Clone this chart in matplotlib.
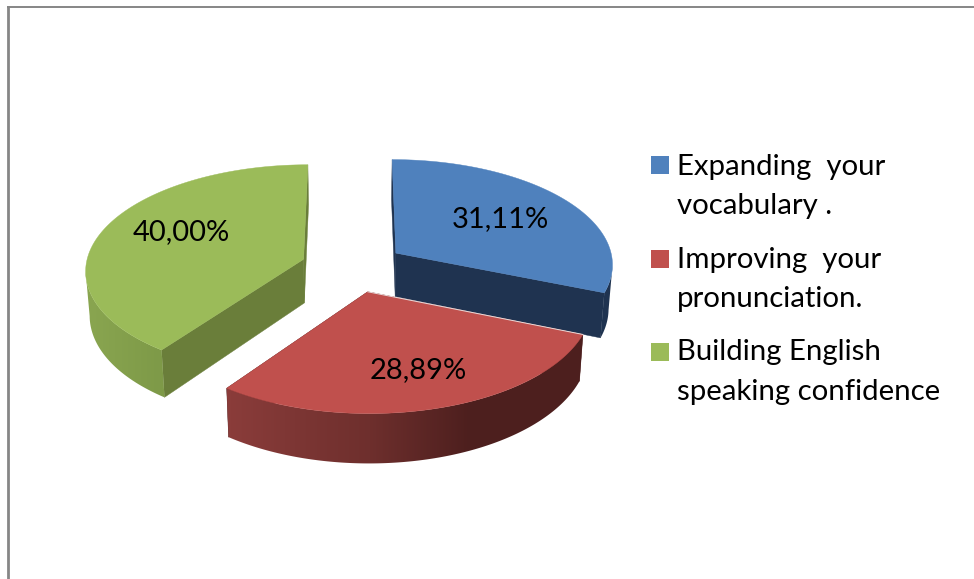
import numpy as np
import matplotlib
matplotlib.use("Agg")
import matplotlib.pyplot as plt
from matplotlib.colors import LinearSegmentedColormap, to_rgb
from matplotlib.patches import Polygon, Rectangle

plt.rcParams['font.family'] = ['Lato', 'DejaVu Sans']

# chart data
categories = [["Expanding  your", "vocabulary ."],
              ["Improving  your", "pronunciation."],
              ["Building English", "speaking confidence"]]
values = [31.11, 28.89, 40.00]

# colours
top_colors = ['#4F81BD', '#C0504D', '#9BBB59']
cut_colors = ['#1F3350', '#4D1F1E', '#6A7E3A']
# (screen x, colour) stops for the curved wall of each slice
wall_stops = [[(0, '#1F3350'), (974, '#1F3350')],
              [(220, '#8C3D3B'), (370, '#6E2F2D'), (470, '#4D1F1E'), (590, '#4E201F')],
              [(70, '#8CA852'), (160, '#7E9A48'), (320, '#7E9A48')]]

# projection of the 3D pie
CX, CY = 353, 267
RX, RY = 218, 105
PERSP = 0.096
EXPLODE = 0.24
DEPTH = 44
BOTTOM_SHRINK = 0.985
STEPS = 160


def project(wx, wd, drop=0.0):
    f = 1 / (1 + PERSP * wd)
    shrink = BOTTOM_SHRINK if drop else 1.0
    return CX + wx * RX * f * shrink, CY - wd * RY * f + drop * f


fig = plt.figure(figsize=(9.74, 5.79), dpi=100)
ax = fig.add_axes([0, 0, 1, 1])
ax.axis('off')

# frame of the chart area, only top and left show
ax.plot([7, 974], [6.5, 6.5], color='#868686', lw=1.4, solid_capstyle='butt', zorder=1)
ax.plot([7.5, 7.5], [6, 579], color='#868686', lw=2.0, solid_capstyle='butt', zorder=1)

# slice angles from the values
edges = np.concatenate([[0], np.cumsum(values)]) / sum(values) * 2 * np.pi
slices = []
for i in range(len(values)):
    t = np.linspace(edges[i], edges[i + 1], STEPS)
    mid = (edges[i] + edges[i + 1]) / 2
    slices.append((i, t, EXPLODE * np.sin(mid), EXPLODE * np.cos(mid)))

# back to front: green, blue, red
z = 2
for i, t, ox, od in [slices[2], slices[0], slices[1]]:
    wx, wd = ox + np.sin(t), od + np.cos(t)

    # flat cut faces
    for j in (0, -1):
        a = project(np.array([ox, wx[j]]), np.array([od, wd[j]]))
        b = project(np.array([ox, wx[j]]), np.array([od, wd[j]]), DEPTH)
        pts = list(zip(a[0], a[1])) + list(zip(b[0], b[1]))[::-1]
        ax.add_patch(Polygon(pts, closed=True, fc=cut_colors[i], ec=cut_colors[i], lw=0.3, zorder=z))

    # curved wall: only the part facing the viewer, so the outline does not cross itself
    circle = np.linspace(0, 2 * np.pi, 1440)
    cx_screen = project(ox + np.sin(circle), od + np.cos(circle))[0]
    front = (t >= circle[np.argmax(cx_screen)]) & (t <= circle[np.argmin(cx_screen)])
    xt, yt = project(wx[front], wd[front])
    xb, yb = project(wx[front], wd[front], DEPTH)
    outline = Polygon(np.r_[np.c_[xt, yt], np.c_[xb, yb][::-1]], closed=True, transform=ax.transData)
    stops = wall_stops[i]
    lo, hi = stops[0][0], stops[-1][0]
    cmap = LinearSegmentedColormap.from_list(
        f'wall{i}', [((x - lo) / (hi - lo), to_rgb(c)) for x, c in stops])
    im = ax.imshow(np.linspace(0, 1, 256).reshape(1, -1), cmap=cmap, aspect='auto',
                   extent=(lo, hi, 579, 0), zorder=z + 0.1, interpolation='bilinear')
    im.set_clip_path(outline)

    # top face
    px, py = project(np.r_[ox, wx], np.r_[od, wd])
    ax.add_patch(Polygon(np.c_[px, py], closed=True, fc=top_colors[i], ec=top_colors[i],
                         lw=0.3, zorder=z + 0.2))
    if i == 1:
        # pale highlight along the back edge of the red slice
        ax.plot([px[0], px[1]], [py[0], py[1]], color='#EADCDC', lw=0.7, zorder=z + 0.3)
    z += 1

ax.set_xlim(0, 974)
ax.set_ylim(579, 0)

# value labels
label_x = [500, 418, 181]
label_y = [219, 370, 232]
for v, x, y in zip(values, label_x, label_y):
    ax.text(x, y, f"{v:.2f}%".replace('.', ','), ha='center', va='center',
            fontsize=21, color='black', zorder=10)

# legend
box_y = [156, 250, 343]
line_y = [(175, 214), (268, 307), (360, 400)]
for i, lines in enumerate(categories):
    ax.add_patch(Rectangle((651, box_y[i]), 18, 18, fc=top_colors[i], ec='none', zorder=10))
    for txt, y in zip(lines, line_y[i]):
        ax.text(677, y, txt, ha='left', va='baseline', fontsize=21.2, color='black', zorder=10)

fig.savefig('out.png', dpi=100)
